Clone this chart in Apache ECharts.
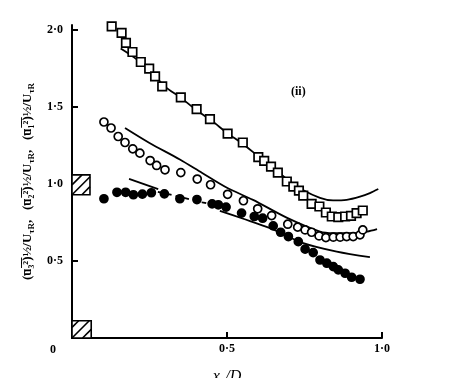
<!DOCTYPE html>
<html>
<head>
<meta charset="utf-8">
<script src="https://cdn.jsdelivr.net/npm/echarts@6/dist/echarts.min.js"></script>
<style>html,body{margin:0;padding:0;background:#fff}#c{width:456px;height:378px}</style>
</head>
<body>
<div id="c"></div>
<script>
// ---- data ----
const xTicks = [0.5, 1.0];
const yTicks = [0.5, 1.0, 1.5, 2.0];

const u1Squares = [[0.096,2.054],[0.128,2.021],[0.160,1.979],[0.174,1.914],[0.195,1.855],[0.222,1.790],[0.249,1.747],[0.268,1.697],[0.291,1.632],[0.351,1.560],[0.402,1.485],[0.445,1.420],[0.502,1.325],[0.551,1.268],[0.601,1.173],[0.620,1.149],[0.642,1.112],[0.664,1.073],[0.693,1.015],[0.714,0.982],[0.732,0.956],[0.746,0.924],[0.773,0.870],[0.798,0.853],[0.819,0.814],[0.838,0.788],[0.859,0.784],[0.881,0.788],[0.900,0.792],[0.918,0.810],[0.938,0.827]];
const u1Line = [[0.157,1.877],[0.2,1.82],[0.25,1.74],[0.3,1.63],[0.35,1.56],[0.4,1.48],[0.45,1.41],[0.5,1.33],[0.55,1.26],[0.6,1.18],[0.65,1.10],[0.7,1.02],[0.745,0.96],[0.8,0.909],[0.842,0.892],[0.886,0.896],[0.929,0.917],[0.961,0.94],[0.988,0.966]];

const u2Circles = [[0.103,1.401],[0.126,1.362],[0.149,1.307],[0.171,1.268],[0.196,1.227],[0.219,1.199],[0.252,1.151],[0.273,1.119],[0.300,1.091],[0.351,1.073],[0.404,1.031],[0.447,0.994],[0.502,0.932],[0.553,0.890],[0.599,0.838],[0.644,0.794],[0.696,0.738],[0.728,0.719],[0.752,0.701],[0.773,0.686],[0.797,0.662],[0.819,0.651],[0.843,0.654],[0.865,0.654],[0.886,0.658],[0.907,0.658],[0.929,0.669],[0.938,0.701]];
const u2Line = [[0.171,1.362],[0.25,1.265],[0.348,1.158],[0.42,1.07],[0.5,0.974],[0.584,0.896],[0.694,0.779],[0.8,0.690],[0.842,0.680],[0.906,0.680],[0.952,0.690],[0.984,0.706]];

const u3Dots = [[0.103,0.903],[0.145,0.945],[0.173,0.945],[0.198,0.929],[0.227,0.933],[0.256,0.942],[0.298,0.935],[0.348,0.903],[0.403,0.898],[0.452,0.870],[0.472,0.864],[0.497,0.849],[0.547,0.810],[0.588,0.788],[0.615,0.777],[0.649,0.727],[0.673,0.686],[0.698,0.658],[0.730,0.625],[0.752,0.576],[0.778,0.554],[0.800,0.506],[0.822,0.485],[0.843,0.463],[0.859,0.442],[0.881,0.420],[0.902,0.394],[0.929,0.381]];
const u3LineA = [[0.184,1.032],[0.278,0.966]];
const u3Dash = [[0.277,0.948],[0.35,0.915],[0.42,0.88],[0.503,0.844]];
const u3LineB = [[0.477,0.825],[0.55,0.775],[0.639,0.712],[0.746,0.615],[0.854,0.560],[0.961,0.524]];

// hatched wall boxes: [x0, x1, y0, y1]
const hatchBoxes = [[0,0.058,0.929,1.058],[0,0.062,0,0.112]];

const FONT = 'Liberation Serif';
const fmt = v => v.toFixed(1).replace('.', '\u00b7');

const chart = echarts.init(document.getElementById('c'), null, {renderer:'canvas'});

function lineSeries(data, dashed){
  return {type:'line', data, symbol:'none', smooth:0.3, silent:true, z:2,
    lineStyle:{color:'#000', width:1.8, type: dashed ? [5,4] : 'solid'}};
}
function pointSeries(data, symbol, filled, size){
  return {type:'scatter', data, symbol, symbolSize:size, silent:true, z:3,
    itemStyle:{color: filled ? '#000' : '#fff', borderColor:'#000', borderWidth:1.7, opacity:1}};
}

const ax = {fontFamily:FONT, fontWeight:'bold', fontSize:12, color:'#000'};

chart.setOption({
  animation:false,
  backgroundColor:'#fff',
  grid:{left:72, right:74, top:25, bottom:40, containLabel:false, outerBoundsMode:'none'},
  xAxis:{type:'value', min:0, max:1.0,
    name:'x\u2082/D', nameLocation:'middle', nameGap:31,
    nameTextStyle:{fontFamily:FONT, fontStyle:'italic', fontSize:16, color:'#000', verticalAlign:'top'},
    axisLine:{show:true, lineStyle:{color:'#000', width:2}},
    axisTick:{show:true, inside:true, length:6, lineStyle:{color:'#000', width:2}, customValues:xTicks},
    axisLabel:Object.assign({customValues:xTicks, formatter:fmt, margin:5}, ax),
    splitLine:{show:false}},
  yAxis:{type:'value', min:0, max:2.03,
    name:'{t|(u\u0305\u2083\u0305\u00b2\u0305)\u00bd/U}{s|\u03c4R}{t|,   (u\u0305\u2082\u0305\u00b2\u0305)\u00bd/U}{s|\u03c4R}{t|,   (u\u0305\u2081\u0305\u00b2\u0305)\u00bd/U}{s|\u03c4R}',
    nameLocation:'middle', nameGap:35, nameRotate:90,
    nameTextStyle:{rich:{
      t:{fontFamily:FONT, fontWeight:'bold', fontSize:13, color:'#000'},
      s:{fontFamily:FONT, fontWeight:'bold', fontSize:9, color:'#000', padding:[7,0,0,0]}}},
    axisLine:{show:true, lineStyle:{color:'#000', width:2}},
    axisTick:{show:true, inside:true, length:6, lineStyle:{color:'#000', width:2}, customValues:yTicks},
    axisLabel:Object.assign({customValues:yTicks, formatter:fmt, margin:9}, ax),
    splitLine:{show:false}},
  series:[
    {type:'custom', data:hatchBoxes, silent:true, z:4, clip:false,
      renderItem:function(params, api){
        const p0 = api.coord([api.value(0), api.value(2)]);
        const p1 = api.coord([api.value(1), api.value(3)]);
        const x0 = p0[0], y1 = p0[1], x1 = p1[0], y0 = p1[1];
        const w = x1 - x0, h = y1 - y0;
        const children = [{type:'rect', shape:{x:x0, y:y0, width:w, height:h},
          style:{fill:'#fff', stroke:'#000', lineWidth:1.6}}];
        [-0.55, 0, 0.55].forEach(f => {
          const c = f * w;
          const s0 = Math.max(0, -c), s1 = Math.min(h, w - c);
          if (s1 > s0) children.push({type:'line',
            shape:{x1:x0 + s0 + c, y1:y1 - s0, x2:x0 + s1 + c, y2:y1 - s1},
            style:{stroke:'#000', lineWidth:1.6}});
        });
        return {type:'group', children};
      }},
    lineSeries(u1Line), lineSeries(u2Line), lineSeries(u3LineA), lineSeries(u3Dash, true), lineSeries(u3LineB),
    pointSeries(u1Squares, 'rect', false, 8.5),
    pointSeries(u2Circles, 'circle', false, 8),
    pointSeries(u3Dots, 'circle', true, 8)
  ]
});

const o = chart.convertToPixel({gridIndex:0}, [0, 0]);
chart.setOption({graphic:[
  {type:'text', left:o[0]-22, top:o[1]+6, style:{text:'0', font:'bold 12px "Liberation Serif"', fill:'#000'}},
  {type:'text', left:291, top:86, style:{text:'(ii)', font:'bold 12px "Liberation Serif"', fill:'#000'}}
]});
</script>
</body>
</html>
